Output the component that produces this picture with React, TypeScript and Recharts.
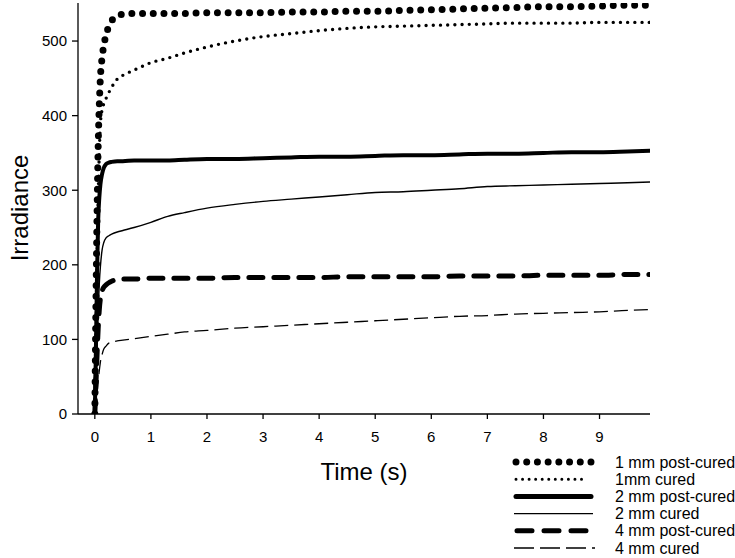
import React from 'react';
import { LineChart, Line, XAxis, YAxis, Legend } from 'recharts';

const time = [0, 0.02, 0.04, 0.06, 0.08, 0.1, 0.13, 0.16, 0.2, 0.25, 0.3, 0.4, 0.5, 0.7, 1, 1.3, 1.6, 2, 2.5, 3, 3.5, 4, 4.5, 5, 5.5, 6, 6.5, 7, 7.5, 8, 8.5, 9, 9.5, 9.9];

const postCured1mm = [0, 150, 270, 360, 415, 452, 478, 494, 508, 520, 527, 534, 536, 537, 537, 537, 537, 538, 538, 538, 539, 539, 540, 540, 541, 542, 543, 544, 545, 546, 546, 547, 548, 548];
const cured1mm = [0, 100, 200, 290, 350, 390, 408, 416, 423, 431, 438, 449, 454, 461, 471, 477, 484, 492, 500, 506, 510, 514, 517, 519, 520, 521, 522, 523, 524, 524, 524, 525, 525, 525];
const postCured2mm = [0, 90, 190, 260, 290, 308, 322, 330, 335, 337, 338, 339, 339, 340, 340, 340, 341, 342, 342, 343, 344, 345, 345, 346, 347, 347, 348, 349, 349, 350, 351, 351, 352, 353];
const cured2mm = [0, 40, 90, 140, 175, 198, 220, 230, 236, 239, 241, 244, 246, 250, 257, 265, 270, 276, 281, 285, 288, 291, 294, 297, 298, 300, 302, 305, 306, 307, 308, 309, 310, 311];
const postCured4mm = [0, 40, 80, 115, 140, 155, 165, 170, 173, 176, 178, 180, 181, 181, 182, 182, 182, 182, 183, 183, 183, 183, 184, 184, 184, 184, 185, 185, 185, 186, 186, 186, 187, 187];
const cured4mm = [0, 15, 30, 45, 58, 70, 80, 87, 91, 95, 96, 98, 99, 101, 104, 107, 110, 112, 115, 117, 119, 121, 123, 125, 127, 129, 131, 132, 134, 135, 136, 137, 139, 140];

const seriesKeys = ['c4', 'pc4', 'c2', 'pc2', 'c1', 'pc1'];
const seriesNames = {
  pc1: '1 mm post-cured',
  c1: '1mm cured',
  pc2: '2 mm post-cured',
  c2: '2 mm cured',
  pc4: '4 mm post-cured',
  c4: '4 mm cured',
};
const legendOrder = ['pc1', 'c1', 'pc2', 'c2', 'pc4', 'c4'];

const xTicks = [0, 1, 2, 3, 4, 5, 6, 7, 8, 9];
const yTicks = [0, 100, 200, 300, 400, 500];

const data = time.map((t, i) => ({
  t,
  pc1: postCured1mm[i],
  c1: cured1mm[i],
  pc2: postCured2mm[i],
  c2: cured2mm[i],
  pc4: postCured4mm[i],
  c4: cured4mm[i],
}));

const lineStyles: Record<string, { w: number; dash?: string; cap: 'round' | 'butt' }> = {
  pc1: { w: 7, dash: '0 10.7', cap: 'round' },
  c1: { w: 3.4, dash: '0 7.2', cap: 'round' },
  pc2: { w: 4, cap: 'round' },
  c2: { w: 1.4, cap: 'butt' },
  pc4: { w: 5, dash: '14 11', cap: 'round' },
  c4: { w: 1.3, dash: '14 6', cap: 'butt' },
};

const legendStyles: Record<string, { w: number; dash?: string; cap: 'round' | 'butt'; x1: number; x2: number }> = {
  pc1: { w: 7, dash: '0 10.71', cap: 'round', x1: 16, x2: 91 },
  c1: { w: 3, dash: '0 6.55', cap: 'round', x1: 16, x2: 88 },
  pc2: { w: 5, cap: 'round', x1: 16, x2: 91 },
  c2: { w: 1.4, cap: 'butt', x1: 14, x2: 93 },
  pc4: { w: 5, dash: '15 12', cap: 'round', x1: 17, x2: 91 },
  c4: { w: 1.3, dash: '20 6', cap: 'butt', x1: 14, x2: 95 },
};

const FONT = '"Liberation Sans", Arial, sans-serif';

const LegendContent = () => (
  <svg width={235} height={103} style={{ display: 'block' }}>
    {legendOrder.map((k, i) => {
      const s = legendStyles[k];
      const y = 7 + i * 17.2;
      return (
        <g key={k}>
          <line
            x1={s.x1}
            x2={s.x2}
            y1={y}
            y2={y}
            stroke="#000"
            strokeWidth={s.w}
            strokeDasharray={s.dash}
            strokeLinecap={s.cap}
          />
          <text x={115} y={y} dy="0.35em" fontSize={16} fontFamily={FONT} fill="#000">
            {seriesNames[k as keyof typeof seriesNames]}
          </text>
        </g>
      );
    })}
  </svg>
);

export default function App() {
  return (
    <div style={{ position: 'absolute', left: 0, top: 0, width: 735, height: 558, background: '#fff' }}>
      <LineChart
        width={735}
        height={558}
        data={data}
        margin={{ top: 3, right: 85, bottom: 114, left: 0 }}
        style={{ fontFamily: FONT }}
      >
        <XAxis
          type="number"
          dataKey="t"
          domain={[-0.3, 9.9]}
          ticks={xTicks}
          allowDataOverflow
          height={30}
          tickSize={5}
          tickMargin={12}
          axisLine={{ stroke: '#000', strokeWidth: 1.3 }}
          tickLine={{ stroke: '#000', strokeWidth: 1.3 }}
          tick={{ fill: '#000', fontSize: 15, fontFamily: FONT }}
        />
        <YAxis
          type="number"
          domain={[0, 551]}
          ticks={yTicks}
          allowDataOverflow
          width={78}
          tickSize={6}
          tickMargin={5}
          axisLine={{ stroke: '#000', strokeWidth: 1.3 }}
          tickLine={{ stroke: '#000', strokeWidth: 1.3 }}
          tick={{ fill: '#000', fontSize: 15, fontFamily: FONT }}
        />
        {seriesKeys.map((k) => {
          const s = lineStyles[k];
          return (
            <Line
              key={k}
              type="monotone"
              dataKey={k}
              name={seriesNames[k as keyof typeof seriesNames]}
              stroke="#000"
              strokeWidth={s.w}
              strokeDasharray={s.dash}
              strokeLinecap={s.cap}
              strokeLinejoin="round"
              dot={false}
              activeDot={false}
              isAnimationActive={false}
            />
          );
        })}
        <Legend
          layout="horizontal"
          verticalAlign="middle"
          align="center"
          content={<LegendContent />}
          wrapperStyle={{ position: 'absolute', left: 500, top: 455, width: 235, height: 103 }}
        />
      </LineChart>
      <svg
        width={735}
        height={558}
        style={{ position: 'absolute', left: 0, top: 0, pointerEvents: 'none' }}
      >
        <text
          x={0}
          y={0}
          transform="translate(20 208) rotate(-90)"
          textAnchor="middle"
          dy="0.35em"
          fontSize={24}
          fontFamily={FONT}
          fill="#000"
        >
          Irradiance
        </text>
        <text x={364} y={472} textAnchor="middle" dy="0.35em" fontSize={24} fontFamily={FONT} fill="#000">
          Time (s)
        </text>
      </svg>
    </div>
  );
}
